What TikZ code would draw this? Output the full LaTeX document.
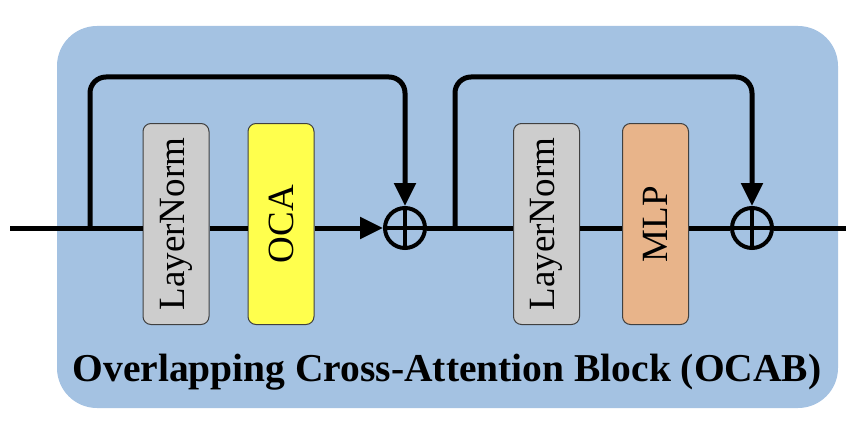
\documentclass[tikz,border=0pt]{standalone}
\usepackage{fontspec}
\setmainfont{Liberation Serif}
\usetikzlibrary{arrows.meta}
\usetikzlibrary{calc}

\definecolor{bgblue}{RGB}{164,194,226}
\definecolor{ocayellow}{RGB}{255,255,77}
\definecolor{mlporange}{RGB}{232,180,138}
\definecolor{normgray}{RGB}{205,205,205}

\tikzset{
    block/.style = {draw=black!75, line width=1pt, rounded corners=8pt,
                    minimum width=66pt, minimum height=201pt, inner sep=0pt,
                    font=\fontsize{37}{40}\selectfont},
    addop/.style = {draw=black, circle, line width=4pt, minimum size=40pt, inner sep=0pt,
                    path picture={\draw[line width=4pt] (path picture bounding box.north) -- (path picture bounding box.south)
                                  (path picture bounding box.west) -- (path picture bounding box.east);}},
    flow/.style  = {draw=black, line width=5pt},
    tip/.style   = {-{Triangle[length=23pt,width=21pt]}}
}

\begin{document}
\begin{tikzpicture}[x=1pt, y=1pt]
                \useasboundingbox (0,0) rectangle (846,424);
                \fill[bgblue, rounded corners=40pt] (57,16) rectangle (838,398);
                \coordinate (in) at (10,196);
                \coordinate (out) at (846,196);
                \node[block, fill=normgray] (normA) at (176,200) {\rotatebox{90}{LayerNorm}};
                \node[block, fill=ocayellow] (oca) at (281,200) {\rotatebox{90}{OCA}};
                \node[addop] (addA) at (405,196) {};
                \node[block, fill=normgray] (normB) at (546.5,200) {\rotatebox{90}{LayerNorm}};
                \node[block, fill=mlporange] (mlp) at (655.5,200) {\rotatebox{90}{MLP}};
                \node[addop] (addB) at (752,196) {};
                \coordinate (splitA) at (90,196);
                \coordinate (splitB) at (455,196);
                \draw[flow] (in) -- (normA.west |- in);
                \draw[flow] (normA.east |- in) -- (oca.west |- in);
                \draw[flow, tip] (oca.east |- in) -- (addA.west);
                \draw[flow] (addA.east) -- (normB.west |- in);
                \draw[flow] (normB.east |- in) -- (mlp.west |- in);
                \draw[flow] (mlp.east |- in) -- (addB.west);
                \draw[flow] (addB.east) -- (out);
                \draw[flow, tip, rounded corners=16pt] (splitA) -- ++(0,151) -| (addA.north);
                \draw[flow, tip, rounded corners=16pt] (splitB) -- ++(0,151) -| (addB.north);
                \node[font=\fontsize{39.5}{42}\selectfont\bfseries] (title) at (447,52) {Overlapping Cross-Attention Block (OCAB)};

            \end{tikzpicture}
\end{document}
